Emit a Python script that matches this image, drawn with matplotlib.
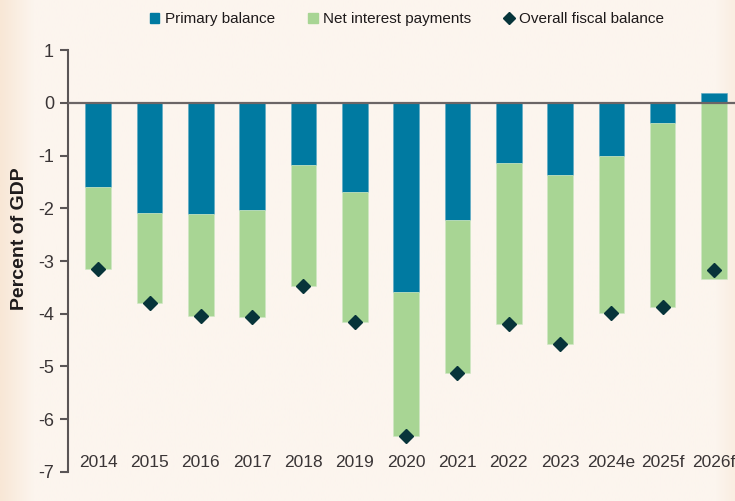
import numpy as np
import matplotlib.pyplot as plt
from matplotlib.lines import Line2D
from matplotlib.patches import Patch

years = ["2014", "2015", "2016", "2017", "2018", "2019", "2020",
         "2021", "2022", "2023", "2024e", "2025f", "2026f"]
primary_balance = [-1.59, -2.09, -2.10, -2.04, -1.18, -1.69, -3.58,
                   -2.23, -1.15, -1.36, -1.01, -0.39, 0.18]
net_interest = [-1.57, -1.70, -1.94, -2.03, -2.29, -2.46, -2.73,
                -2.89, -3.05, -3.21, -2.98, -3.48, -3.34]
overall_balance = [-3.16, -3.79, -4.04, -4.07, -3.47, -4.15, -6.31,
                   -5.12, -4.20, -4.57, -3.99, -3.87, -3.17]

BLUE = "#007aa1"
GREEN = "#a8d594"
DARK = "#07343a"
BG = "#fcf5ee"
TEXT = "#3a3536"

plt.rcParams['font.family'] = ['Liberation Sans', 'DejaVu Sans']

fig = plt.figure(figsize=(7.35, 5.01), dpi=100)
fig.patch.set_facecolor(BG)

# soft peach gradient at the left and right edges
bg = fig.add_axes([0, 0, 1, 1], zorder=-10)
xs = np.linspace(0, 1, 400)
left = np.clip(1 - xs / 0.045, 0, 1)
right = np.clip((xs - 0.975) / 0.025, 0, 1) * 0.5
w = np.maximum(left, right)
c0 = np.array([252, 245, 238]) / 255
c1 = np.array([248, 231, 214]) / 255
img = (c0[None, :] * (1 - w[:, None]) + c1[None, :] * w[:, None])[None, :, :]
bg.imshow(img, aspect='auto', extent=[0, 1, 0, 1])
bg.axis('off')

ax = fig.add_axes([0.0925, 0.058, 0.9075, 0.842])
ax.set_facecolor('none')

x = np.arange(len(years))
green_bottom = [p if p < 0 else 0 for p in primary_balance]
ax.bar(x, primary_balance, width=0.5, color=BLUE, edgecolor="#5aa9c4",
       linewidth=0.4, zorder=2)
ax.bar(x, net_interest, width=0.5, bottom=green_bottom, color=GREEN,
       edgecolor="#cfe8c4", linewidth=0.4, zorder=2)
ax.plot(x, overall_balance, linestyle='none', marker='D', markersize=7.5,
        color=DARK, zorder=4)
ax.axhline(0, color="#6b6566", linewidth=1.6, zorder=3)

ax.set_ylim(-7, 1)
ax.set_xlim(-0.59, 12.41)
ax.set_yticks(range(-7, 2))
ax.set_yticklabels([str(v) for v in range(-7, 2)])
ax.set_xticks(x)
ax.set_xticklabels(years)
for s in ['top', 'right', 'bottom']:
    ax.spines[s].set_visible(False)
ax.spines['left'].set_color("#5a5556")
ax.spines['left'].set_linewidth(1.5)
ax.spines['left'].set_bounds(-7, 1)
ax.tick_params(axis='y', length=6, width=1.5, color="#5a5556",
               labelsize=13, labelcolor=TEXT, pad=4)
ax.tick_params(axis='x', length=0, labelsize=12.5, labelcolor=TEXT, pad=-12)
for lbl in ax.get_xticklabels():
    lbl.set_verticalalignment('top')
ax.set_ylabel("Percent of GDP", fontsize=14, fontweight='bold',
              color="#1e1a1b")
ax.yaxis.set_label_coords(-0.06, 0.552)

handles = [Patch(color=BLUE, label="Primary balance"),
           Patch(color=GREEN, label="Net interest payments"),
           Line2D([], [], linestyle='none', marker='D', markersize=6.5,
                  color=DARK, label="Overall fiscal balance")]
fig.legend(handles=handles, loc='center', bbox_to_anchor=(0.554, 0.962),
           ncol=3, frameon=False, fontsize=11, handlelength=0.6,
           handleheight=0.6, handletextpad=0.35, columnspacing=2.2,
           labelcolor="#1e1a1b")

fig.savefig("out.png", dpi=100, facecolor=fig.get_facecolor())
